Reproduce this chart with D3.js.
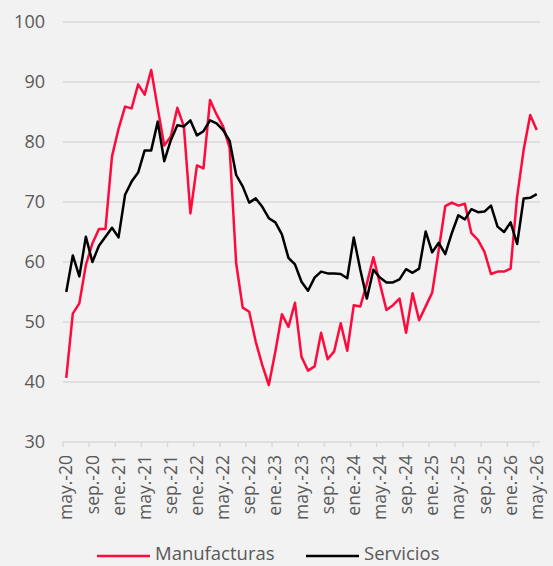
<!DOCTYPE html>
<html>
<head>
<meta charset="utf-8">
<script src="https://cdn.jsdelivr.net/npm/d3@7"></script>
<style>
  html, body { margin: 0; padding: 0; background: #f2f2f2; }
  svg { display: block; }
  text { font-family: "Open Sans", sans-serif; fill: #595959; }
</style>
</head>
<body>
<svg id="chart" width="553" height="566"></svg>
<script>
const monthNames = ["ene","feb","mar","abr","may","jun","jul","ago","sep","oct","nov","dic"];
// categories: may-20 .. may-26 (73 months)
const categories = [];
for (let k = 0; k < 73; k++) {
  const m = (4 + k) % 12;
  const yr = 20 + Math.floor((4 + k) / 12);
  categories.push(monthNames[m] + ".-" + yr);
}
const manufacturas = [
  40.7, 51.4, 53.1, 59.5, 63.1, 65.5, 65.5, 77.6, 82.2, 85.9, 85.6, 89.6,
  87.9, 92.0, 85.6, 79.4, 80.9, 85.7, 82.6, 68.1, 76.1, 75.6, 87.0, 84.6,
  82.6, 79.0, 59.8, 52.4, 51.7, 46.7, 42.8, 39.5, 45.1, 51.3, 49.2, 53.2,
  44.2, 41.9, 42.6, 48.2, 43.8, 45.1, 49.8, 45.2, 52.8, 52.6, 56.4, 60.8,
  56.4, 52.0, 52.8, 53.9, 48.2, 54.8, 50.3, 52.6, 54.9, 62.0, 69.3, 69.9,
  69.4, 69.7, 64.8, 63.7, 61.7, 58.0, 58.4, 58.4, 58.9, 70.9, 78.7, 84.5,
  82.0
];
const servicios = [
  55.0, 61.1, 57.6, 64.2, 60.0, 62.7, 64.2, 65.7, 64.1, 71.2, 73.4, 74.9,
  78.6, 78.6, 83.4, 76.8, 80.3, 82.8, 82.6, 83.6, 81.1, 81.8, 83.6, 83.1,
  82.0, 80.2, 74.5, 72.6, 69.9, 70.6, 69.2, 67.3, 66.6, 64.6, 60.7, 59.6,
  56.7, 55.2, 57.4, 58.4, 58.1, 58.1, 58.0, 57.3, 64.1, 58.7, 53.9, 58.7,
  57.4, 56.6, 56.6, 57.1, 58.8, 58.2, 58.9, 65.1, 61.6, 63.2, 61.3, 64.8,
  67.8, 67.1, 68.8, 68.3, 68.4, 69.4, 65.9, 65.0, 66.6, 63.0, 70.6, 70.7,
  71.3
];
const yTicks = [30, 40, 50, 60, 70, 80, 90, 100];
const seriesNames = ["Manufacturas", "Servicios"];
const seriesColors = ["#ff0a3c", "#000000"];

const svg = d3.select("#chart");
const mLeft = 63, mRight = 540, mTop = 22, mBottom = 442;

const x = d3.scaleBand().domain(categories).range([mLeft, mRight]).paddingInner(0).paddingOuter(0);
const bw = x.bandwidth();
const cx = c => x(c) + bw / 2;
const y = d3.scaleLinear().domain([30, 100]).range([mBottom, mTop]);

// gridlines
svg.append("g").selectAll("line").data(yTicks.filter(v => v > 30)).join("line")
  .attr("x1", mLeft).attr("x2", mRight)
  .attr("y1", d => y(d)).attr("y2", d => y(d))
  .attr("stroke", "#d9d9d9").attr("stroke-width", 1.5);

// y labels
svg.append("g").selectAll("text").data(yTicks).join("text")
  .attr("x", 45).attr("y", d => y(d)).attr("dy", "0.35em")
  .attr("text-anchor", "end").attr("font-size", 18)
  .text(d => d);

// x axis line
svg.append("line").attr("x1", mLeft).attr("x2", mRight)
  .attr("y1", mBottom).attr("y2", mBottom)
  .attr("stroke", "#d9d9d9").attr("stroke-width", 1.5);

const tickCats = categories.filter((c, i) => i % 4 === 0);
svg.append("g").selectAll("line").data(tickCats).join("line")
  .attr("x1", d => x(d)).attr("x2", d => x(d))
  .attr("y1", mBottom).attr("y2", mBottom + 5)
  .attr("stroke", "#d9d9d9").attr("stroke-width", 1.5);

svg.append("g").selectAll("text").data(tickCats).join("text")
  .attr("transform", d => `translate(${cx(d)},${mBottom + 13}) rotate(-90)`)
  .attr("dy", "0.35em").attr("text-anchor", "end").attr("font-size", 17.5)
  .text(d => d);

// lines
const line = d3.line().x((d, i) => cx(categories[i])).y(d => y(d));
[manufacturas, servicios].forEach((s, k) => {
  svg.append("path").datum(s)
    .attr("d", line).attr("fill", "none")
    .attr("stroke", seriesColors[k]).attr("stroke-width", 2.5)
    .attr("stroke-linejoin", "round");
});

// legend
const legX = [97, 306];
seriesNames.forEach((n, k) => {
  svg.append("line").attr("x1", legX[k]).attr("x2", legX[k] + 53)
    .attr("y1", 556).attr("y2", 556)
    .attr("stroke", seriesColors[k]).attr("stroke-width", 2.5);
  svg.append("text").attr("x", legX[k] + 58).attr("y", 560)
    .attr("font-size", 18.5).text(n);
});
</script>
</body>
</html>
